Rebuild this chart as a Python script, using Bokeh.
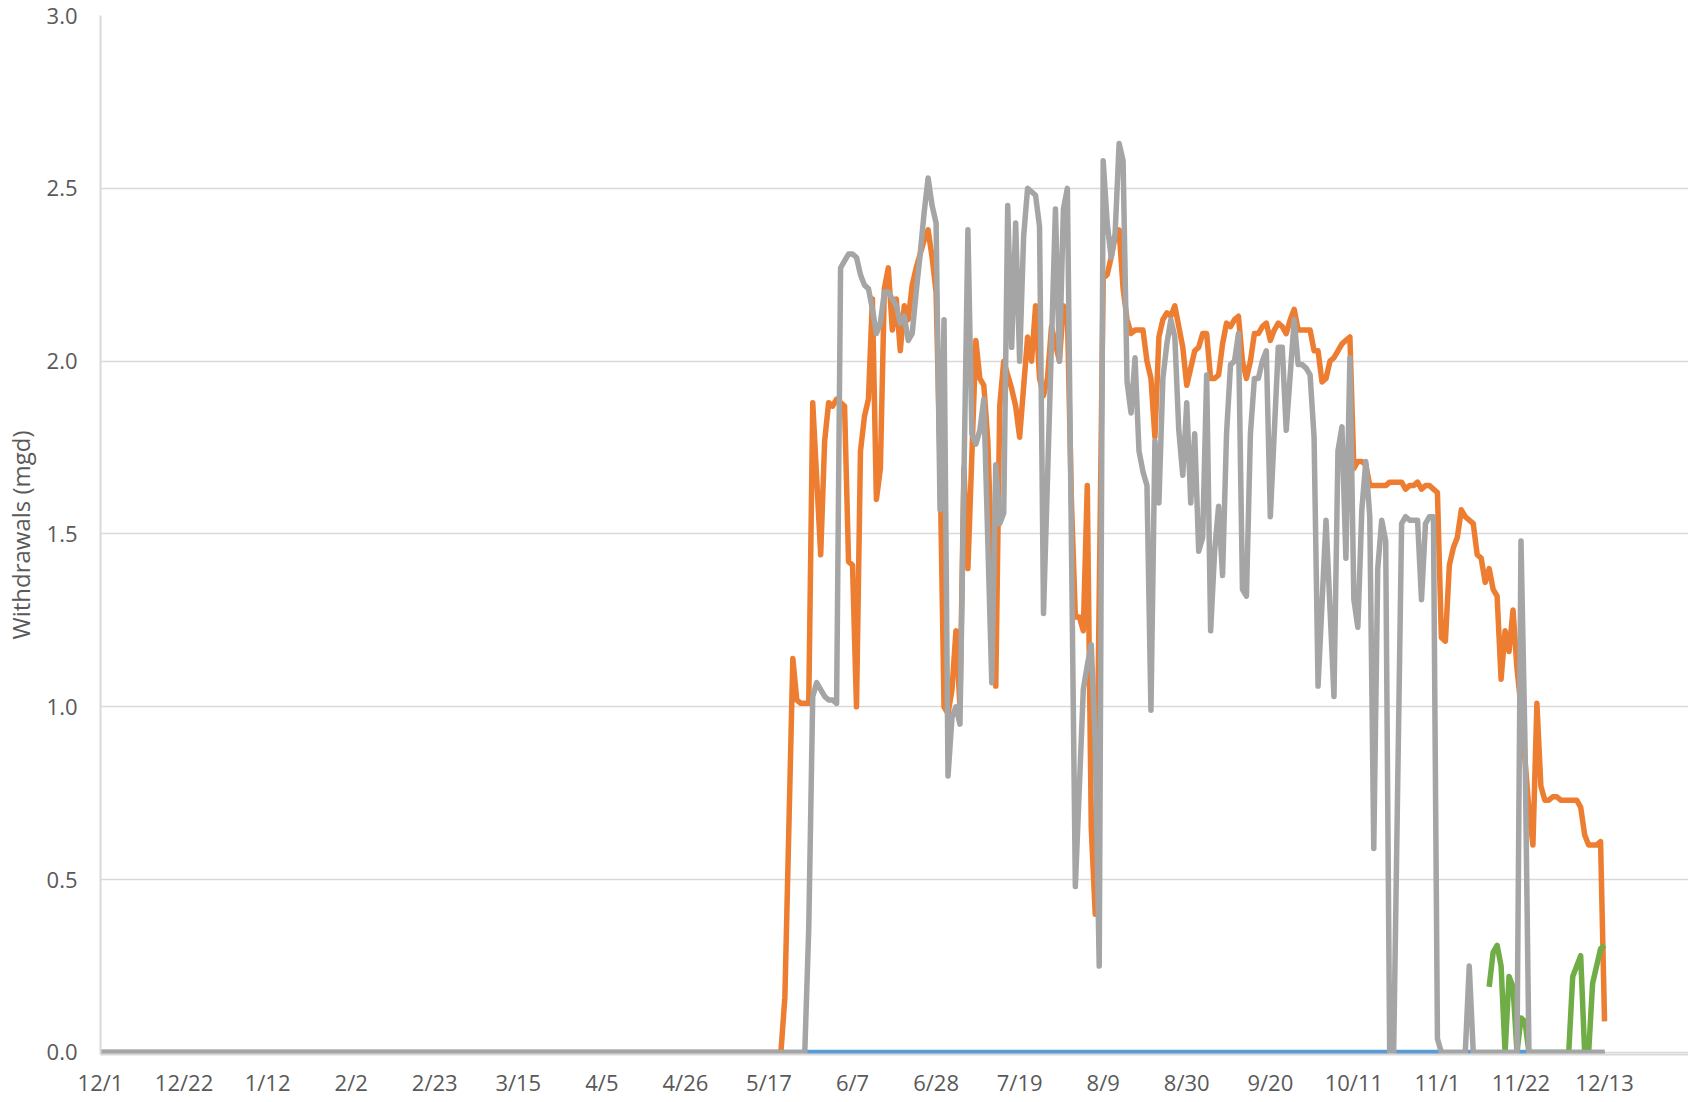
from bokeh.plotting import figure
from bokeh.models import Range1d, FixedTicker, NumeralTickFormatter
from bokeh.embed import file_html
from bokeh.resources import INLINE

# x = days since 12/1 (leap year span), y = withdrawals (mgd)
tick_labels = ["12/1", "12/22", "1/12", "2/2", "2/23", "3/15", "4/5", "4/26", "5/17",
               "6/7", "6/28", "7/19", "8/9", "8/30", "9/20", "10/11", "11/1", "11/22", "12/13"]
tick_days = [0, 21, 42, 63, 84, 105, 126, 147, 168, 189, 210, 231, 252, 273, 294, 315, 336, 357, 378]
y_ticks = [0.0, 0.5, 1.0, 1.5, 2.0, 2.5, 3.0]

blue_days = [0, 378]
blue_mgd = [0.0, 0.0]

orange_days = [0, 171, 172, 174, 175, 176, 178, 179, 181, 182, 183, 184, 185, 187, 188, 189, 190,
               191, 192, 193, 194, 195, 196, 197, 198, 199, 200, 201, 202, 203, 204, 205, 206, 207,
               208, 209, 210, 211, 212, 213, 214, 215, 216, 217, 218, 220, 221, 222, 223, 225, 226,
               227, 229, 230, 231, 233, 234, 235, 236, 237, 238, 239, 240, 241, 242, 243, 244, 245,
               246, 247, 248, 249, 250, 252, 253, 254, 255, 256, 257, 258, 259, 260, 261, 262, 263,
               264, 265, 266, 267, 268, 269, 270, 271, 272, 273, 274, 275, 276, 277, 278, 279, 280,
               281, 282, 283, 284, 285, 286, 287, 288, 289, 290, 291, 292, 293, 294, 295, 296, 297,
               298, 299, 300, 301, 302, 303, 304, 305, 306, 307, 308, 309, 310, 311, 312, 313, 314,
               315, 316, 317, 318, 319, 320, 321, 322, 323, 324, 325, 326, 327, 328, 329, 330, 331,
               332, 333, 334, 335, 336, 337, 338, 339, 340, 341, 342, 343, 344, 345, 346, 347, 348,
               349, 350, 351, 352, 353, 354, 355, 356, 357, 358, 359, 360, 361, 362, 363, 364, 365,
               366, 367, 368, 369, 370, 371, 372, 373, 374, 375, 376, 377, 378]
orange_mgd = [0.0, 0.0, 0.16, 1.14, 1.02, 1.01, 1.01, 1.88, 1.44, 1.77, 1.88, 1.87, 1.89, 1.87, 1.42, 1.41, 1.00,
              1.74, 1.84, 1.89, 2.18, 1.60, 1.69, 2.21, 2.27, 2.09, 2.18, 2.03, 2.16, 2.12, 2.22, 2.27, 2.31, 2.35,
              2.38, 2.30, 2.20, 1.70, 1.00, 0.98, 1.05, 1.22, 1.00, 1.69, 1.40, 2.06, 1.95, 1.93, 1.77, 1.06, 1.87,
              2.00, 1.92, 1.87, 1.78, 2.07, 2.00, 2.16, 1.95, 1.90, 1.95, 2.10, 2.05, 2.00, 2.16, 2.14, 1.60, 1.26,
              1.26, 1.22, 1.64, 0.65, 0.40, 2.24, 2.25, 2.30, 2.36, 2.38, 2.21, 2.12, 2.08, 2.09, 2.09, 2.09, 2.00,
              1.95, 1.78, 2.07, 2.12, 2.14, 2.13, 2.16, 2.10, 2.04, 1.93, 1.98, 2.03, 2.04, 2.08, 2.08, 1.95, 1.95,
              1.96, 2.05, 2.11, 2.10, 2.12, 2.13, 2.00, 1.95, 2.00, 2.08, 2.08, 2.10, 2.11, 2.06, 2.09, 2.11, 2.10,
              2.08, 2.12, 2.15, 2.09, 2.09, 2.09, 2.09, 2.03, 2.03, 1.94, 1.95, 2.00, 2.01, 2.03, 2.05, 2.06, 2.07,
              1.69, 1.71, 1.71, 1.70, 1.64, 1.64, 1.64, 1.64, 1.64, 1.65, 1.65, 1.65, 1.65, 1.63, 1.64, 1.64, 1.65,
              1.63, 1.64, 1.64, 1.63, 1.62, 1.20, 1.19, 1.41, 1.46, 1.49, 1.57, 1.55, 1.54, 1.53, 1.44, 1.43, 1.36,
              1.40, 1.34, 1.32, 1.08, 1.22, 1.16, 1.28, 1.11, 1.00, 0.85, 0.70, 0.60, 1.01, 0.77, 0.73, 0.73, 0.74,
              0.74, 0.73, 0.73, 0.73, 0.73, 0.73, 0.71, 0.63, 0.60, 0.60, 0.60, 0.61, 0.09]

gray_days = [0, 177, 178, 179, 180, 181, 182, 183, 184, 185, 186, 187, 188, 189, 190, 191, 192, 193,
             194, 195, 196, 197, 198, 199, 200, 201, 202, 203, 204, 205, 206, 207, 208, 209, 210, 211,
             212, 213, 214, 215, 216, 218, 219, 220, 221, 222, 224, 225, 226, 227, 228, 229, 230, 231,
             232, 233, 234, 235, 236, 237, 240, 241, 242, 243, 245, 247, 248, 249, 250, 251, 252, 253,
             254, 255, 256, 257, 258, 259, 260, 261, 262, 263, 264, 265, 266, 267, 268, 269, 270, 271,
             272, 273, 274, 275, 276, 277, 278, 279, 280, 281, 282, 283, 284, 285, 286, 287, 288, 289,
             290, 291, 292, 293, 294, 296, 297, 298, 300, 301, 302, 303, 304, 305, 306, 308, 310, 311,
             312, 313, 314, 315, 316, 317, 318, 319, 320, 321, 322, 323, 324, 325, 327, 328, 329, 330,
             331, 332, 333, 334, 335, 336, 337, 343, 344, 345, 356, 357, 358, 359, 378]
gray_mgd = [0.0, 0.0, 0.36, 1.03, 1.07, 1.05, 1.03, 1.02, 1.02, 1.01, 2.27, 2.29, 2.31, 2.31, 2.30, 2.25, 2.22, 2.21,
            2.15, 2.08, 2.11, 2.20, 2.20, 2.18, 2.16, 2.11, 2.13, 2.06, 2.08, 2.20, 2.31, 2.43, 2.53, 2.45, 2.40, 1.57,
            2.12, 0.80, 0.97, 1.00, 0.95, 2.38, 1.79, 1.76, 1.80, 1.89, 1.07, 1.70, 1.53, 1.56, 2.45, 2.04, 2.40, 2.00,
            2.36, 2.50, 2.49, 2.48, 2.39, 1.27, 2.44, 2.00, 2.44, 2.50, 0.48, 1.05, 1.12, 1.18, 0.90, 0.25, 2.58, 2.40,
            2.30, 2.37, 2.63, 2.58, 1.94, 1.85, 2.01, 1.74, 1.68, 1.64, 0.99, 1.77, 1.59, 1.95, 2.05, 2.12, 2.07, 1.80,
            1.67, 1.88, 1.59, 1.79, 1.45, 1.49, 1.96, 1.22, 1.45, 1.58, 1.38, 1.79, 1.99, 2.00, 2.08, 1.34, 1.32, 1.79,
            1.95, 1.95, 2.00, 2.03, 1.55, 2.04, 2.04, 1.80, 2.12, 1.99, 1.99, 1.98, 1.96, 1.78, 1.06, 1.54, 1.03, 1.74,
            1.81, 1.43, 2.01, 1.31, 1.23, 1.57, 1.71, 1.55, 0.59, 1.40, 1.54, 1.48, 0.0, 0.0, 1.53, 1.55, 1.54, 1.54,
            1.54, 1.31, 1.53, 1.55, 1.55, 0.04, 0.0, 0.0, 0.25, 0.0, 0.0, 1.48, 0.90, 0.0, 0.0]

green_days = [349, 350, 351, 352, 353, 354, 355, 356, 357, 358, 359, 369, 370, 372, 373, 374, 375, 377, 378]
green_mgd = [0.19, 0.29, 0.31, 0.25, 0.0, 0.22, 0.19, 0.0, 0.10, 0.09, 0.0, 0.0, 0.22, 0.28, 0.0, 0.0, 0.20, 0.30, 0.31]

FONT = "Open Sans"
TXT = "#595959"
GRID = "#d9d9d9"

p = figure(width=1688, height=1102, output_backend="svg", toolbar_location=None,
           x_range=Range1d(0, 399.1), y_range=Range1d(-0.0058, 3.0),
           min_border_left=98, min_border_right=0, min_border_top=15, min_border_bottom=48)
p.outline_line_color = None
p.background_fill_color = "white"
p.border_fill_color = "white"

p.xgrid.visible = False
p.ygrid.ticker = FixedTicker(ticks=y_ticks)
p.ygrid.grid_line_color = GRID
p.ygrid.grid_line_width = 1.5

xa = p.xaxis[0]
xa.ticker = FixedTicker(ticks=tick_days)
xa.major_label_overrides = {d: s for d, s in zip(tick_days, tick_labels)}
ya = p.yaxis[0]
ya.ticker = FixedTicker(ticks=y_ticks)
ya.formatter = NumeralTickFormatter(format="0.0")
ya.axis_label = "Withdrawals (mgd)"
ya.axis_label_text_font = FONT
ya.axis_label_text_font_size = "24px"
ya.axis_label_text_font_style = "normal"
ya.axis_label_text_color = TXT
ya.axis_label_standoff = 7

for ax in (xa, ya):
    ax.major_tick_in = 0
    ax.major_tick_out = 0
    ax.minor_tick_in = 0
    ax.minor_tick_out = 0
    ax.axis_line_color = GRID
    ax.axis_line_width = 2
    ax.major_label_text_font = FONT
    ax.major_label_text_font_size = "22px"
    ax.major_label_text_color = TXT
xa.major_label_standoff = 12
ya.major_label_standoff = 23

LW = 5.5
p.line(blue_days, blue_mgd, line_color="#5B9BD5", line_width=LW, line_join="round")
p.line(orange_days, orange_mgd, line_color="#ED7D31", line_width=LW, line_join="round")
p.line(green_days, green_mgd, line_color="#70AD47", line_width=LW, line_join="round")
p.line(gray_days, gray_mgd, line_color="#A5A5A5", line_width=LW, line_join="round")

open("out.html", "w").write(file_html(p, INLINE))
